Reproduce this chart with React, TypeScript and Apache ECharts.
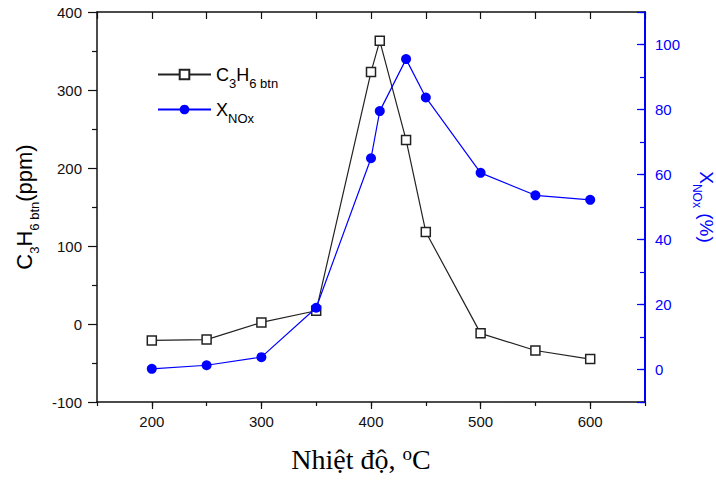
import React, { useEffect, useRef } from 'react';
import * as echarts from 'echarts';

const temperatures = [200, 250, 300, 350, 400, 408, 432, 450, 500, 550, 600];
const c3h6Values = [-21, -20, 2, 17, 323, 363, 236, 118, -12, -34, -45];
const xnoxValues = [0.2, 1.3, 3.8, 19, 65, 79.5, 95.5, 83.7, 60.5, 53.6, 52.2];
const seriesNames = ['C3H6', 'XNOx'];
const legendLabels: Record<string, string> = {
  C3H6: '{a|C}{s|3}{a|H}{s|6 btn}',
  XNOx: '{a|X}{s|NOx}',
};
const xTitle = '{a|Nhiệt độ, }{s|o}{a|C}';
const leftTitle = '{a|C}{s|3}{a|H}{s|6 btn}{a|(ppm)}';
const rightTitle = '{a|X}{s|NOx}{a| (%)}';

export default function App() {
  const ref = useRef<HTMLDivElement>(null);
  useEffect(() => {
    document.body.style.margin = '0';
    const chart = echarts.init(ref.current!, null, { renderer: 'svg' });
    const black = '#111111';
    const blue = '#0000ff';
    const sans = 'Liberation Sans';
    const serif = 'Liberation Serif';
    const c3h6Data = temperatures.map((t, i) => [t, c3h6Values[i]]);
    const xnoxData = temperatures.map((t, i) => [t, xnoxValues[i]]);

    chart.setOption({
      animation: false,
      backgroundColor: '#ffffff',
      grid: { left: 97, right: 71, top: 12, bottom: 79, containLabel: false, outerBoundsMode: 'none' },
      legend: {
        orient: 'vertical',
        left: 152,
        top: 54,
        itemWidth: 53,
        itemHeight: 12,
        itemGap: 4,
        data: seriesNames,
        formatter: (name: string) => legendLabels[name] || name,
        textStyle: {
          color: '#000',
          rich: {
            a: { fontSize: 18, fontFamily: sans, color: '#000', lineHeight: 20 },
            s: { fontSize: 13, fontFamily: sans, color: '#000', lineHeight: 14, padding: [18, 0, 0, 0] },
          },
        },
      },
      xAxis: [
        {
          type: 'value',
          position: 'bottom',
          min: 150,
          max: 650,
          axisLine: { show: true, onZero: false, lineStyle: { color: black, width: 1.5 } },
          axisTick: { show: true, inside: false, length: 7, lineStyle: { color: black, width: 1.2 } },
          axisLabel: { show: true, showMinLabel: false, showMaxLabel: false, margin: 12, fontSize: 15, fontFamily: sans, color: black },
          splitLine: { show: false },
          name: xTitle,
          nameLocation: 'middle',
          nameGap: 41,
          nameTextStyle: {
            padding: [0, 20, 0, 0],
            rich: {
              a: { fontSize: 28, fontFamily: serif, color: '#000', lineHeight: 32 },
              s: { fontSize: 19, fontFamily: serif, color: '#000', lineHeight: 20, padding: [0, 0, 12, 0] },
            },
          },
        },
        {
          type: 'value',
          position: 'bottom',
          min: 150,
          max: 650,
          interval: 50,
          axisLine: { show: false, onZero: false },
          axisTick: { show: true, inside: false, length: 4, lineStyle: { color: black, width: 1.2 } },
          axisLabel: { show: false },
          splitLine: { show: false },
        },
        {
          type: 'value',
          position: 'top',
          min: 150,
          max: 650,
          interval: 50,
          axisLine: { show: true, onZero: false, lineStyle: { color: black, width: 1.5 } },
          axisTick: { show: true, inside: true, length: 7, lineStyle: { color: black, width: 1.2 } },
          axisLabel: { show: false },
          splitLine: { show: false },
        },
      ],
      yAxis: [
        {
          type: 'value',
          position: 'left',
          min: -100,
          max: 400,
          interval: 100,
          axisLine: { show: true, onZero: false, lineStyle: { color: black, width: 1.5 } },
          axisTick: { show: true, inside: false, length: 9, lineStyle: { color: black, width: 1.2 } },
          minorTick: { show: true, splitNumber: 2, length: 5, lineStyle: { color: black, width: 1.2 } },
          axisLabel: { margin: 15, fontSize: 15, fontFamily: sans, color: black },
          splitLine: { show: false },
          name: leftTitle,
          nameLocation: 'middle',
          nameRotate: 90,
          nameGap: 58,
          nameTextStyle: {
            rich: {
              a: { fontSize: 22, fontFamily: sans, color: '#000', lineHeight: 26 },
              s: { fontSize: 13, fontFamily: sans, color: '#000', lineHeight: 15, padding: [20, 0, 0, 0] },
            },
          },
        },
        {
          type: 'value',
          position: 'right',
          min: -10,
          max: 110,
          interval: 10,
          axisLine: { show: true, onZero: false, lineStyle: { color: blue, width: 2 } },
          axisTick: { show: true, inside: true, length: 5, lineStyle: { color: blue, width: 1.2 } },
          axisLabel: {
            margin: 10,
            fontSize: 15,
            fontFamily: sans,
            color: blue,
            formatter: (v: number) => (v >= 0 && v <= 100 && v % 20 === 0 ? String(v) : ''),
          },
          splitLine: { show: false },
          name: rightTitle,
          nameLocation: 'middle',
          nameRotate: -90,
          nameGap: 40,
          nameTextStyle: {
            rich: {
              a: { fontSize: 19, fontFamily: sans, color: blue, lineHeight: 22 },
              s: { fontSize: 12, fontFamily: sans, color: blue, lineHeight: 14, padding: [20, 0, 0, 0] },
            },
          },
        },
        {
          type: 'value',
          position: 'right',
          min: -10,
          max: 110,
          axisLine: { show: false, onZero: false },
          axisTick: { show: true, inside: true, length: 8, lineStyle: { color: blue, width: 1.2 } },
          axisLabel: { show: false },
          splitLine: { show: false },
        },
      ],
      series: [
        {
          name: seriesNames[0],
          type: 'line',
          xAxisIndex: 0,
          yAxisIndex: 0,
          data: c3h6Data,
          symbol: 'rect',
          symbolSize: 9,
          showAllSymbol: true,
          itemStyle: { color: '#ffffff', borderColor: '#222222', borderWidth: 1.5 },
          lineStyle: { color: '#222222', width: 1.2 },
          z: 2,
        },
        {
          name: seriesNames[1],
          type: 'line',
          xAxisIndex: 0,
          yAxisIndex: 1,
          data: xnoxData,
          symbol: 'circle',
          symbolSize: 10,
          showAllSymbol: true,
          itemStyle: { color: blue },
          lineStyle: { color: blue, width: 1.2 },
          z: 3,
        },
      ],
    });
    return () => chart.dispose();
  }, []);
  return <div ref={ref} style={{ width: 716, height: 481 }} />;
}
